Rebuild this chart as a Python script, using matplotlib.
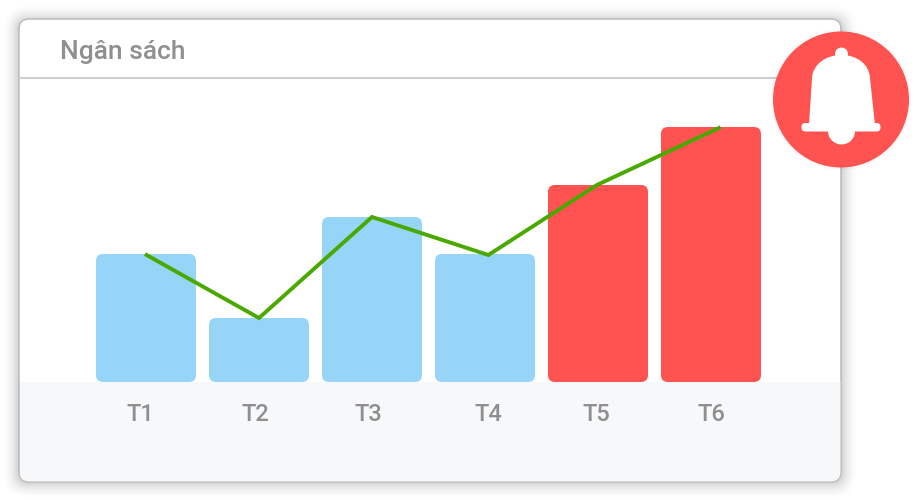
import matplotlib
matplotlib.use("Agg")
from matplotlib import pyplot as plt
from matplotlib.patches import FancyBboxPatch, Circle, PathPatch, Rectangle
from matplotlib.path import Path

plt.rcParams['font.family'] = ['Roboto', 'DejaVu Sans']

title = "Ngân sách"
months = ["T1", "T2", "T3", "T4", "T5", "T6"]
bar_values = [128, 64, 165, 128, 197, 255]
bar_colors = ["#97d5f8", "#97d5f8", "#97d5f8", "#97d5f8", "#fe5350", "#fe5350"]
# the line and labels do not sit exactly on the bar centres in the picture
line_x = [0.005, 1, 2, 3.03, 3.99, 5.07]
line_values = [127, 64, 165, 127, 197, 254]
label_x = [-0.05, 0.97, 1.97, 3.03, 3.99, 5.0]

W, H = 922, 500
fig = plt.figure(figsize=(W / 100, H / 100), dpi=100, facecolor="white")

# background layer in pixels: card, shadow, header line, footer
bg = fig.add_axes([0, 0, 1, 1], zorder=0)
bg.set_xlim(0, W)
bg.set_ylim(H, 0)
bg.axis("off")

for i in range(16):
    grow = 16 - i
    bg.add_patch(FancyBboxPatch((19 - grow, 21 - grow), 822 + 2 * grow, 461 + 2 * grow,
                                boxstyle="round,pad=0,rounding_size=%d" % (10 + grow),
                                fc="black", ec="none", alpha=0.003 + 0.001 * i))

card = FancyBboxPatch((19, 19), 822, 463, boxstyle="round,pad=0,rounding_size=10",
                      fc="white", ec="#bdbdbd", lw=0.8)
bg.add_patch(card)
footer = Rectangle((19.5, 382), 821, 99.5, fc="#f7f8fa", ec="none")
bg.add_patch(footer)
footer.set_clip_path(card)
bg.add_patch(FancyBboxPatch((19, 19), 822, 463, boxstyle="round,pad=0,rounding_size=10",
                            fc="none", ec="#bdbdbd", lw=0.8))
bg.plot([19, 841], [77.5, 77.5], color="#cfcfcf", lw=1.5, solid_capstyle="butt")
bg.text(60, 59, title, fontsize=19, fontweight="medium", color="#8f8f8f", ha="left", va="baseline")

# chart layer, one y unit is one pixel, one x unit is one bar step
step = 113
ax = fig.add_axes([19 / W, (H - 382) / H, 822 / W, 304 / H], zorder=1)
ax.set_xlim((19 - 146) / step, (841 - 146) / step)
ax.set_ylim(0, 304)
ax.axis("off")
ax.patch.set_alpha(0)

bar_w = 100 / step
for i, v in enumerate(bar_values):
    ax.add_patch(FancyBboxPatch((i - bar_w / 2, 0), bar_w, v,
                                boxstyle="round,pad=0,rounding_size=%f" % (7 / step),
                                mutation_aspect=step, fc=bar_colors[i], ec="none"))
ax.plot(line_x, line_values, color="#4aa900", lw=2.8, solid_joinstyle="miter", zorder=5)

for x, m in zip(label_x, months):
    ax.text(x, -39, m, fontsize=17, fontweight="medium", color="#8f8f8f",
            ha="center", va="baseline", clip_on=False)

# bell badge on top, pixel coordinates again
top = fig.add_axes([0, 0, 1, 1], zorder=2)
top.set_xlim(0, W)
top.set_ylim(H, 0)
top.axis("off")
top.patch.set_alpha(0)

for i in range(4):
    top.add_patch(Circle((841, 99.5), 71 - i, fc="black", ec="none", alpha=0.012))
top.add_patch(Circle((841, 99.5), 68, fc="#fe5350", ec="none"))
top.add_patch(Circle((841.5, 54), 6.5, fc="white", ec="none"))

bell = [(809, 125), (812, 78), (813, 64), (826, 55), (841.5, 55),
        (857, 55), (869, 64), (870, 78), (875, 125), (809, 125)]
codes = [Path.MOVETO, Path.LINETO, Path.CURVE4, Path.CURVE4, Path.CURVE4,
         Path.CURVE4, Path.CURVE4, Path.CURVE4, Path.LINETO, Path.CLOSEPOLY]
top.add_patch(PathPatch(Path(bell, codes), fc="white", ec="none"))
top.add_patch(FancyBboxPatch((801.5, 123), 79, 8.5, boxstyle="round,pad=0,rounding_size=4",
                             fc="white", ec="none"))
top.add_patch(Circle((841.5, 131), 13.5, fc="white", ec="none"))

fig.savefig("out.png", dpi=100)
